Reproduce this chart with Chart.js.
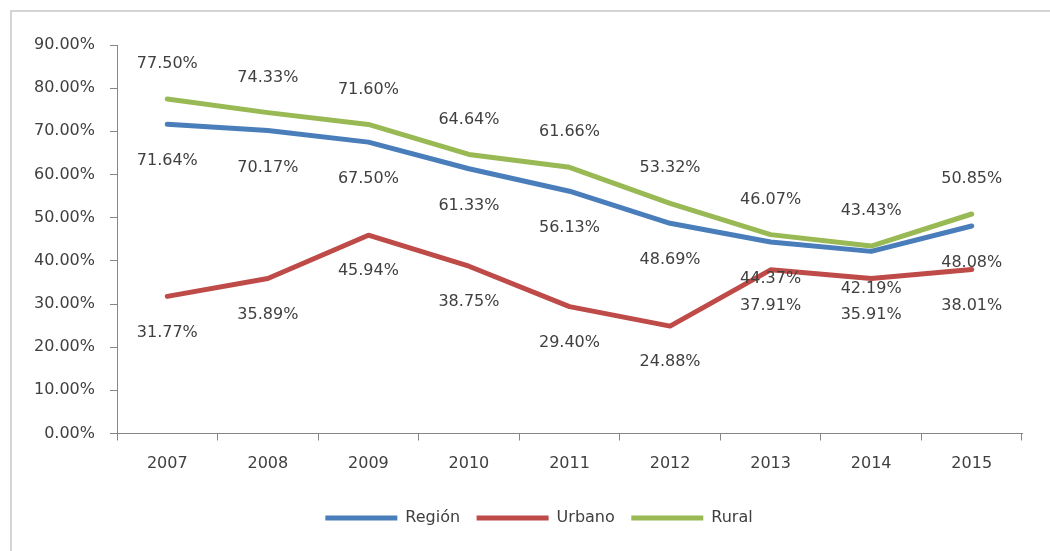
<!DOCTYPE html>
<html>
<head>
<meta charset="utf-8">
<script src="https://cdn.jsdelivr.net/npm/chart.js@4/dist/chart.umd.min.js"></script>
<style>
    html, body { margin: 0; padding: 0; background: #ffffff; }
    #wrap { position: relative; width: 1050px; height: 551px; }
</style>
</head>
<body>
<div id="wrap"><canvas id="chart" width="1050" height="551"></canvas></div>
<script>
const years = ["2007", "2008", "2009", "2010", "2011", "2012", "2013", "2014", "2015"];
const region = [71.64, 70.17, 67.50, 61.33, 56.13, 48.69, 44.37, 42.19, 48.08];
const urbano = [31.77, 35.89, 45.94, 38.75, 29.40, 24.88, 37.91, 35.91, 38.01];
const rural = [77.50, 74.33, 71.60, 64.64, 61.66, 53.32, 46.07, 43.43, 50.85];

const textColor = "#404040";
const axisColor = "#868686";
const fontFamily = "'DejaVu Sans', sans-serif";

// frame around the chart (cut off on the right and bottom like the picture)
const framePlugin = {
    id: "frame",
    beforeDraw(chart) {
        const ctx = chart.ctx;
        ctx.save();
        ctx.strokeStyle = "#d4d4d4";
        ctx.lineWidth = 2;
        ctx.beginPath();
        ctx.moveTo(11, 551);
        ctx.lineTo(11, 11);
        ctx.lineTo(1050, 11);
        ctx.stroke();
        ctx.restore();
    }
};

// the legend sits centred under the plot area, not under the whole canvas
const legendShift = {
    id: "legendShift",
    afterLayout(chart) {
        const lg = chart.legend;
        if (lg) {
            lg.left += 28;
            lg.right += 28;
        }
    }
};

// value labels, above the point for Rural, below for the others
const valueLabels = {
    id: "valueLabels",
    afterDatasetsDraw(chart) {
        const ctx = chart.ctx;
        ctx.save();
        ctx.font = "16px " + fontFamily;
        ctx.fillStyle = textColor;
        ctx.textAlign = "center";
        ctx.textBaseline = "middle";
        chart.data.datasets.forEach((ds, i) => {
            const meta = chart.getDatasetMeta(i);
            meta.data.forEach((pt, j) => {
                const shift = ds.labelShift;
                ctx.fillText(ds.data[j].toFixed(2) + "%", pt.x, pt.y + shift);
            });
        });
        ctx.restore();
    }
};

new Chart(document.getElementById("chart"), {
    type: "line",
    data: {
        labels: years,
        datasets: [
            {
                label: "Región",
                data: region,
                borderColor: "#4a7ebb",
                backgroundColor: "#4a7ebb",
                borderWidth: 5,
                labelShift: 37
            },
            {
                label: "Urbano",
                data: urbano,
                borderColor: "#be4b48",
                backgroundColor: "#be4b48",
                borderWidth: 5,
                labelShift: 36
            },
            {
                label: "Rural",
                data: rural,
                borderColor: "#98b954",
                backgroundColor: "#98b954",
                borderWidth: 5,
                labelShift: -35
            }
        ]
    },
    options: {
        responsive: false,
        animation: false,
        devicePixelRatio: 1,
        layout: { padding: { top: 45, right: 28, left: 0, bottom: 15 } },
        elements: {
            point: { radius: 0, hoverRadius: 0 },
            line: { tension: 0, borderJoinStyle: "round", borderCapStyle: "round" }
        },
        plugins: {
            legend: {
                position: "bottom",
                labels: {
                    usePointStyle: true,
                    pointStyle: "line",
                    pointStyleWidth: 72,
                    padding: 16.5,
                    color: textColor,
                    font: { family: fontFamily, size: 16 }
                }
            },
            tooltip: { enabled: false }
        },
        scales: {
            x: {
                offset: true,
                afterFit(scale) { scale.height = 60; },
                grid: {
                    offset: true,
                    drawOnChartArea: false,
                    drawTicks: true,
                    tickLength: 7,
                    color: axisColor
                },
                border: { display: true, color: axisColor, width: 1 },
                ticks: {
                    padding: 14,
                    color: textColor,
                    font: { family: fontFamily, size: 16 }
                }
            },
            y: {
                min: 0,
                max: 90,
                afterFit(scale) { scale.width = 117; },
                grid: {
                    drawOnChartArea: false,
                    drawTicks: true,
                    tickLength: 7,
                    color: axisColor
                },
                border: { display: true, color: axisColor, width: 1 },
                ticks: {
                    stepSize: 10,
                    padding: 15,
                    color: textColor,
                    font: { family: fontFamily, size: 16 },
                    callback: v => v.toFixed(2) + "%"
                }
            }
        }
    },
    plugins: [framePlugin, legendShift, valueLabels]
});
</script>
</body>
</html>
